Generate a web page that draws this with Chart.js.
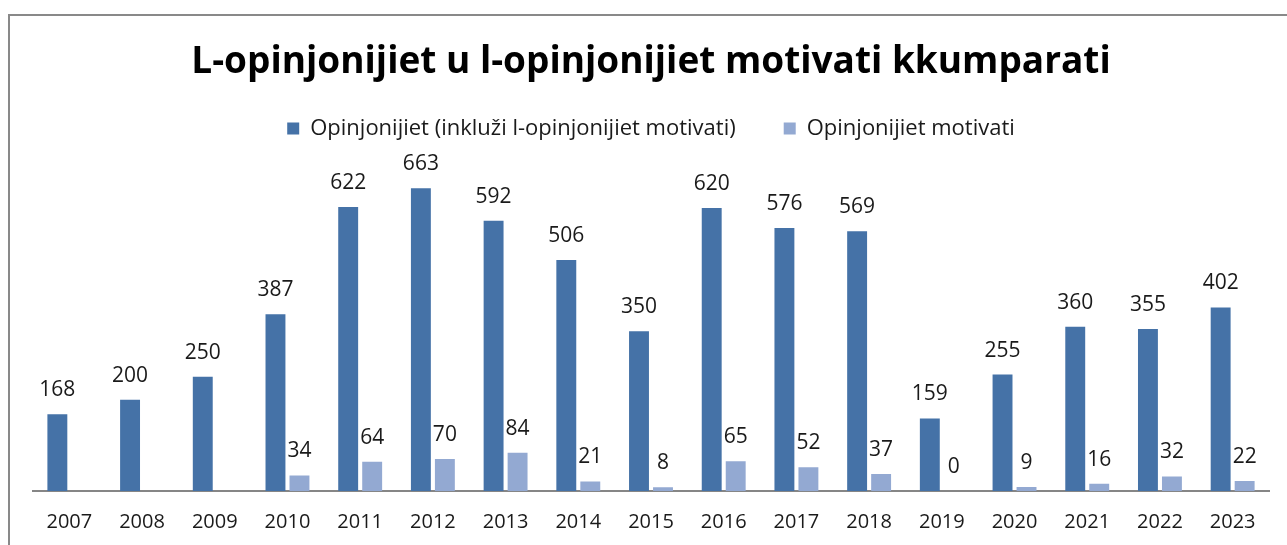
<!DOCTYPE html>
<html>
<head>
<meta charset="utf-8">
<script src="https://cdn.jsdelivr.net/npm/chart.js@4.4.1/dist/chart.umd.min.js"></script>
<style>
  html, body { margin: 0; padding: 0; background: #fff; }
  #wrap { width: 1287px; height: 545px; }
</style>
</head>
<body>
<div id="wrap"><canvas id="opinionsChart" width="1287" height="545"></canvas></div>
<script>
/* ===========================
Data
=========================== */

const years = ["2007", "2008", "2009", "2010", "2011", "2012", "2013", "2014", "2015",
    "2016", "2017", "2018", "2019", "2020", "2021", "2022", "2023"];

const allOpinions = [168, 200, 250, 387, 622, 663, 592, 506, 350, 620, 576, 569, 159, 255, 360, 355, 402];

const reasonedOpinions = [null, null, null, 34, 64, 70, 84, 21, 8, 65, 52, 37, 0, 9, 16, 32, 22];

const seriesNames = ["Opinjonijiet (inkluži l-opinjonijiet motivati)", "Opinjonijiet motivati"];

const titleText = "L-opinjonijiet u l-opinjonijiet motivati kkumparati";

/* ===========================
Plugins
=========================== */

// grey frame of the chart box (only top and left edges show)
const framePlugin = {
    id: "frame",
    beforeDraw(chart) {
        const ctx = chart.ctx;
        ctx.save();
        ctx.strokeStyle = "#898989";
        ctx.lineWidth = 2;
        ctx.strokeRect(9, 15, chart.width + 20, chart.height + 20);
        ctx.restore();
    }
};

// value labels above each bar
const valueLabels = {
    id: "valueLabels",
    afterDatasetsDraw(chart) {
        const ctx = chart.ctx;
        ctx.save();
        ctx.font = "21px 'Open Sans'";
        ctx.fillStyle = "#1a1a1a";
        ctx.textAlign = "center";
        ctx.textBaseline = "alphabetic";
        chart.data.datasets.forEach((ds, i) => {
            chart.getDatasetMeta(i).data.forEach((bar, j) => {
                const v = ds.data[j];
                if (v === null || v === undefined) return;
                ctx.fillText(String(v), bar.x, bar.y - 18);
            });
        });
        ctx.restore();
    }
};

/* ===========================
Chart
=========================== */

const chartCtx = document.getElementById("opinionsChart");

new Chart(chartCtx, {

    type: "bar",

    data: {

        labels: years,

        datasets: [{
            label: seriesNames[0],
            data: allOpinions,
            backgroundColor: "#4572A7",
            categoryPercentage: 0.66,
            barPercentage: 0.83
        }, {
            label: seriesNames[1],
            data: reasonedOpinions,
            backgroundColor: "#93A9D2",
            categoryPercentage: 0.66,
            barPercentage: 0.83
        }]

    },

    options: {

        responsive: false,
        animation: false,

        layout: {
            padding: { left: 33, right: 18, top: 26, bottom: 0 }
        },

        plugins: {

            title: {
                display: true,
                text: titleText,
                color: "#000",
                font: { family: "'Open Sans'", size: 37, weight: "bold" },
                padding: { top: 14, bottom: -15 }
            },

            // empty spacer between legend and plot
            subtitle: {
                display: true,
                text: "",
                weight: 500,
                font: { size: 10, lineHeight: 1 },
                padding: { top: 12, bottom: 0 }
            },

            legend: {
                display: true,
                labels: {
                    color: "#1a1a1a",
                    font: { family: "'Open Sans'", size: 22 },
                    boxWidth: 12,
                    boxHeight: 12,
                    padding: 48
                }
            },

            tooltip: { enabled: false }

        },

        scales: {

            x: {
                grid: { display: false, drawTicks: false },
                border: { color: "#868686", width: 2 },
                ticks: {
                    color: "#1a1a1a",
                    font: { family: "'Open Sans'", size: 20 },
                    padding: 19
                },
                afterFit(scale) {
                    scale.height = 54;
                }
            },

            y: {
                display: false,
                min: 0,
                max: 700
            }

        }

    },

    plugins: [framePlugin, valueLabels]

});
</script>
</body>
</html>
